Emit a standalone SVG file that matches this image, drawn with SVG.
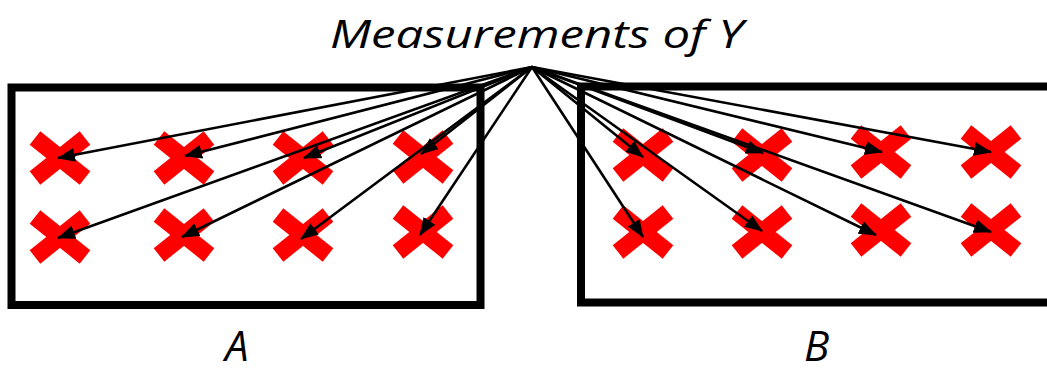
<svg xmlns="http://www.w3.org/2000/svg" width="1047" height="372" viewBox="0 0 1047 372">
<style>
.box{fill:none;stroke:#000;stroke-width:8}
.x{stroke:#ff0000;stroke-width:17;stroke-linecap:butt;fill:none}
.arr{stroke:#000;stroke-width:2.6;fill:none;marker-end:url(#ah)}
.t{font-family:"Open Sans","Liberation Sans",sans-serif;font-style:italic;fill:#000}
</style>
<defs>
<marker id="ah" markerUnits="userSpaceOnUse" markerWidth="18" markerHeight="14" viewBox="0 0 18 14" refX="17" refY="7" orient="auto">
<path d="M0,0 L18,7 L0,14 z" fill="#000"/>
</marker>
<path id="cross" d="M-25,-20 L25,20 M-25,20 L25,-20"/>
</defs>
<rect width="1047" height="372" fill="#fff"/>
<g id="title"><text class="t" x="330" y="48" font-size="39" textLength="413" lengthAdjust="spacingAndGlyphs">Measurements of Y</text></g>
<g id="boxA"><rect class="box" x="11.5" y="87.5" width="469" height="217.5"/></g>
<g id="boxB"><rect class="box" x="581" y="86.5" width="480" height="216"/></g>
<g id="crossesA" class="x">
<use href="#cross" x="60" y="158"/>
<use href="#cross" x="184" y="158"/>
<use href="#cross" x="303" y="158"/>
<use href="#cross" x="423" y="157"/>
<use href="#cross" x="60" y="237"/>
<use href="#cross" x="184" y="235"/>
<use href="#cross" x="303" y="235"/>
<use href="#cross" x="423" y="232"/>
</g>
<g id="crossesB" class="x">
<use href="#cross" x="643" y="155"/>
<use href="#cross" x="762" y="155"/>
<use href="#cross" x="881" y="152"/>
<use href="#cross" x="991" y="152"/>
<use href="#cross" x="643" y="232"/>
<use href="#cross" x="762" y="232"/>
<use href="#cross" x="881" y="230"/>
<use href="#cross" x="991" y="230"/>
</g>
<g id="connectors">
<line class="arr" x1="532" y1="67" x2="58" y2="158"/>
<line class="arr" x1="532" y1="67" x2="185" y2="156"/>
<line class="arr" x1="532" y1="67" x2="304" y2="158"/>
<line class="arr" x1="532" y1="67" x2="421" y2="154"/>
<line class="arr" x1="532" y1="67" x2="58" y2="238"/>
<line class="arr" x1="532" y1="67" x2="182" y2="237"/>
<line class="arr" x1="532" y1="67" x2="301" y2="239"/>
<line class="arr" x1="532" y1="67" x2="420" y2="235"/>
<line class="arr" x1="532" y1="67" x2="643" y2="157"/>
<line class="arr" x1="532" y1="67" x2="763" y2="153"/>
<line class="arr" x1="532" y1="67" x2="882" y2="152"/>
<line class="arr" x1="532" y1="67" x2="991" y2="152"/>
<line class="arr" x1="532" y1="67" x2="643" y2="237"/>
<line class="arr" x1="532" y1="67" x2="762" y2="231"/>
<line class="arr" x1="532" y1="67" x2="876" y2="235"/>
<line class="arr" x1="532" y1="67" x2="991" y2="232"/>
</g>
<g id="labelA"><text class="t" x="225" y="361" font-size="42">A</text></g>
<g id="labelB"><text class="t" x="804" y="361" font-size="42">B</text></g>
</svg>
